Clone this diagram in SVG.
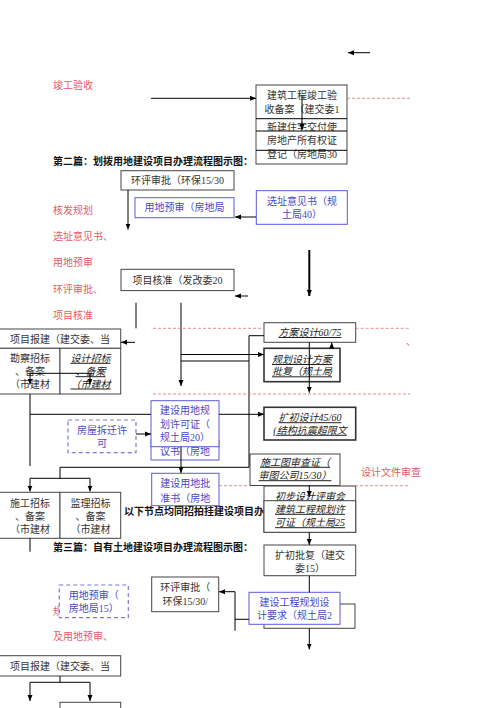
<svg xmlns="http://www.w3.org/2000/svg" width="500" height="708" viewBox="0 0 500 708">
<style>
.bx{fill:#fff;stroke:#444;stroke-width:1}
.bx2{fill:#fff;stroke:#333;stroke-width:1.6}
.bb{fill:#fff;stroke:#5a5ad8;stroke-width:1}
.bd{fill:#fff;stroke:#7a7ada;stroke-width:1.2;stroke-dasharray:4,3}
.t{font-family:"Liberation Serif","Noto Sans CJK SC",serif;font-size:10px;fill:#333}
.c{text-anchor:middle}
.tb{fill:#4848c8}
.tr{fill:#e45a64}
.ti{font-style:italic;text-decoration:underline;fill:#222}
.h{font-weight:bold;fill:#111}
.ln{stroke:#000;stroke-width:1;fill:none}
.lk{stroke:#000;stroke-width:2;fill:none}
.rd{stroke:#e07070;stroke-width:0.8;stroke-dasharray:3,2;fill:none}
</style>
<defs>
<marker id="ah" markerWidth="6" markerHeight="6" refX="6" refY="3" orient="auto-start-reverse" markerUnits="userSpaceOnUse"><path d="M0,0.5 L6,3 L0,5.5 z" fill="#000"/></marker>
<clipPath id="clipA"><rect x="256" y="119" width="91" height="12"/></clipPath>
</defs>

<g id="labels">
<text class="t tr" x="53" y="89">竣工验收</text>
<text class="t h" x="53" y="164.5">第二篇：划拨用地建设项目办理流程图示图：</text>
<text class="t tr" x="53" y="213.5">核发规划</text>
<text class="t tr" x="53" y="240">选址意见书、</text>
<text class="t tr" x="53" y="266">用地预审</text>
<text class="t tr" x="53" y="292.5">环评审批、</text>
<text class="t tr" x="53" y="318.5">项目核准</text>
<text class="t tr" x="406" y="345">、</text>
<text class="t tr" x="361" y="476">设计文件审查</text>
<text class="t h" x="124" y="515.2">以下节点均同招拍挂建设项目办</text>
<text class="t h" x="53" y="550.8">第三篇：自有土地建设项目办理流程图示图：</text>
<text class="t tr" x="53" y="615.2">规</text>
<text class="t tr" x="53" y="640.2">及用地预审、</text>
</g>

<g id="n-jungong">
<rect class="bx" x="256" y="85" width="91" height="79"/>
<text class="t c" x="302" y="98.8">建筑工程竣工验</text>
<text class="t c" x="302" y="112.5">收备案（建交委1</text>
<text class="t c" x="302" y="130.5" clip-path="url(#clipA)">新建住宅交付使</text>
<text class="t c" x="302" y="143.8">房地产所有权证</text>
<text class="t c" x="302" y="158">登记（房地局30</text>
<path class="ln" d="M256,118.7H347M256,131H347M256,150.3H347"/>
</g>

<g id="n-huanping1">
<rect class="bx" x="121" y="170.7" width="113" height="19.3"/>
<text class="t c" x="177.5" y="184.2">环评审批（环保15/30</text>
</g>
<g id="n-yudi1">
<rect class="bb" x="135" y="197.7" width="99" height="20"/>
<text class="t c tb" x="184.5" y="211.2">用地预审（房地局</text>
</g>
<g id="n-xuanzhi">
<rect class="bb" x="256.3" y="190.7" width="91" height="33.6"/>
<text class="t c tb" x="302" y="204.5">选址意见书（规</text>
<text class="t c tb" x="302" y="217.8">土局40）</text>
</g>
<g id="n-hezhun">
<rect class="bx" x="121" y="269.3" width="113" height="21.3"/>
<text class="t c" x="177.5" y="283.5">项目核准（发改委20</text>
</g>
<g id="n-fangan">
<rect class="bx" x="264" y="322.7" width="91.7" height="19.6"/>
<text class="t c ti" x="310" y="336">方案设计60/75</text>
</g>
<g id="n-guihuafangan">
<rect class="bx2" x="264" y="348.3" width="76" height="33.4"/>
<text class="t c ti" x="302" y="363">规划设计方案</text>
<text class="t c ti" x="302" y="375.3">批复（规土局</text>
</g>
<g id="n-baojian1">
<rect class="bx" x="-2" y="329" width="122.7" height="19.3"/>
<text class="t c" x="60" y="342.5">项目报建（建交委、当</text>
</g>
<g id="n-kancha">
<rect class="bx" x="-2" y="348.3" width="62" height="45.7"/>
<text class="t c" x="30" y="361.8">勘察招标</text>
<text class="t c" x="30" y="375.2">、备案</text>
<text class="t c" x="30" y="387.5">（市建材</text>
</g>
<g id="n-shejizb">
<rect class="bx" x="60" y="348.3" width="60.7" height="45.7"/>
<text class="t c ti" x="90.5" y="361.8">设计招标</text>
<text class="t c ti" x="90.5" y="375.2">、备案</text>
<text class="t c ti" x="90.5" y="387.5">（市建材</text>
</g>
<g id="n-chaiqian">
<rect class="bd" x="68" y="420" width="68" height="32.7"/>
<text class="t c tb" x="102" y="433.5">房屋拆迁许</text>
<text class="t c tb" x="102" y="447">可</text>
</g>
<g id="n-guihuaxuke">
<rect class="bb" x="151" y="440" width="68" height="20"/>
<text class="t c tb" x="185" y="454.5">议书（房地</text>
<rect class="bb" x="151" y="400.7" width="68" height="46"/>
<text class="t c tb" x="185" y="414.2">建设用地规</text>
<text class="t c tb" x="185" y="427.8">划许可证（</text>
<text class="t c tb" x="185" y="440.8">规土局20）</text>
</g>
<g id="n-kuochu">
<rect class="bx2" x="264" y="407.3" width="91.7" height="32.7"/>
<text class="t c ti" x="310" y="421.2">扩初设计45/60</text>
<text class="t c ti" x="310" y="433.8">(结构抗震超限文</text>
</g>
<g id="n-shigongtu">
<rect class="bx" x="250" y="454" width="90" height="31.5"/>
<text class="t c ti" x="295" y="465.8">施工图审查证（</text>
<text class="t c ti" x="295" y="479.2">审图公司15/30）</text>
</g>
<g id="n-pizhun">
<rect class="bb" x="151.7" y="473.3" width="67.3" height="32.4"/>
<text class="t c tb" x="185.3" y="486.8">建设用地批</text>
<text class="t c tb" x="185.3" y="501.8">准书（房地</text>
</g>
<g id="n-shigongzb">
<rect class="bx" x="-2" y="492.3" width="62" height="46"/>
<text class="t c" x="30" y="506.8">施工招标</text>
<text class="t c" x="30" y="520.2">、备案</text>
<text class="t c" x="30" y="532.5">（市建材</text>
</g>
<g id="n-jianlizb">
<rect class="bx" x="60" y="492.3" width="60.7" height="46"/>
<text class="t c" x="90.5" y="506.8">监理招标</text>
<text class="t c" x="90.5" y="520.2">、备案</text>
<text class="t c" x="90.5" y="532.5">（市建材</text>
</g>
<g id="n-guihuaxukezheng">
<rect class="bx" x="264" y="486" width="91.7" height="46.3"/>
<text class="t c ti" x="310" y="499.5">初步设计评审会</text>
<rect class="bx" x="264" y="500.7" width="91.7" height="31.6"/>
<text class="t c ti" x="310" y="512.8">建筑工程规划许</text>
<text class="t c ti" x="310" y="526.2">可证（规土局25</text>
</g>
<g id="n-kuochupifu">
<rect class="bx" x="264" y="545" width="91.7" height="30.7"/>
<text class="t c" x="310" y="558.5">扩初批复（建交</text>
<text class="t c" x="310" y="571.8">委15）</text>
</g>
<g id="n-yudi2">
<rect class="bd" x="59.3" y="585" width="69" height="32.7"/>
<text class="t c tb" x="93.8" y="598.5">用地预审（</text>
<text class="t c tb" x="93.8" y="611.8">房地局15）</text>
</g>
<g id="n-huanping2">
<rect class="bx" x="151.7" y="577" width="67" height="34.7"/>
<text class="t c" x="185.2" y="590.8">环评审批（</text>
<text class="t c" x="185.2" y="605.2">环保15/30/</text>
</g>
<g id="n-shejiyaoqiu">
<rect class="bx" x="264" y="604" width="91" height="24.3"/>
<rect class="bb" x="249" y="592.3" width="91" height="32"/>
<text class="t c tb" x="294.5" y="605.8">建设工程规划设</text>
<text class="t c tb" x="294.5" y="618.8">计要求（规土局2</text>
</g>
<g id="n-baojian2">
<rect class="bx" x="-2" y="655.7" width="122.7" height="20.3"/>
<text class="t c" x="60" y="669.5">项目报建（建交委、当</text>
</g>
<g id="n-shejizb2">
<rect class="bx" x="60" y="702.3" width="60.7" height="20"/>
</g>

<g id="connectors">
<line class="ln" x1="370" y1="52.7" x2="348" y2="52.7" marker-end="url(#ah)"/>
<line class="ln" x1="151" y1="98.3" x2="256" y2="98.3" marker-end="url(#ah)"/>
<line class="ln" x1="302" y1="95" x2="302" y2="130" marker-end="url(#ah)"/>
<line class="rd" x1="347" y1="98.3" x2="410" y2="98.3"/>
<line class="ln" x1="128" y1="190" x2="128" y2="229.5" marker-end="url(#ah)"/>
<line class="ln" x1="256" y1="217" x2="235" y2="217" marker-end="url(#ah)"/>
<line class="lk" x1="309.3" y1="250" x2="309.3" y2="296" marker-end="url(#ah)"/>
<line class="ln" x1="248" y1="296" x2="235" y2="296" marker-end="url(#ah)"/>
<line class="ln" x1="136" y1="302.7" x2="136" y2="328.3"/>
<line class="ln" x1="181" y1="302.7" x2="181" y2="386" marker-end="url(#ah)"/>
<line class="rd" x1="153" y1="328.3" x2="264" y2="328.3"/>
<line class="rd" x1="355.7" y1="328.3" x2="410" y2="328.3"/>
<line class="ln" x1="135" y1="342.3" x2="121" y2="342.3" marker-end="url(#ah)"/>
<path class="ln" d="M264,335.7H249V467.3"/>
<line class="ln" x1="181" y1="354.5" x2="264" y2="354.5" marker-end="url(#ah)"/>
<line class="ln" x1="181" y1="361" x2="249" y2="361"/>
<line class="ln" x1="331.7" y1="348.3" x2="331.7" y2="342.5" marker-end="url(#ah)"/>
<line class="ln" x1="309.3" y1="342.3" x2="309.3" y2="392.7" marker-end="url(#ah)"/>
<line class="rd" x1="153" y1="394" x2="410" y2="394"/>
<path class="ln" d="M30,384.5V373.3H90V384.5" marker-start="url(#ah)" marker-end="url(#ah)"/>
<line class="ln" x1="30" y1="394" x2="30" y2="466"/>
<line class="ln" x1="30" y1="414.3" x2="151" y2="414.3"/>
<line class="ln" x1="219" y1="414.3" x2="264" y2="414.3" marker-end="url(#ah)"/>
<line class="ln" x1="136" y1="434" x2="151" y2="434" marker-end="url(#ah)"/>
<line class="ln" x1="181" y1="446.7" x2="181" y2="473" marker-end="url(#ah)"/>
<line class="ln" x1="60" y1="467.3" x2="249" y2="467.3"/>
<path class="ln" d="M60,467.3V478.3"/>
<path class="ln" d="M30,491.5V478.3H90V491.5" marker-start="url(#ah)" marker-end="url(#ah)"/>
<line class="rd" x1="219" y1="485.7" x2="250" y2="485.7"/>
<line class="rd" x1="340" y1="485.7" x2="410" y2="485.7"/>
<line class="ln" x1="309.3" y1="485.5" x2="309.3" y2="497" marker-end="url(#ah)"/>
<line class="ln" x1="309.3" y1="532.3" x2="309.3" y2="545" marker-end="url(#ah)"/>
<line class="ln" x1="30" y1="538.3" x2="30" y2="551.7"/>
<line class="ln" x1="309.3" y1="575.7" x2="309.3" y2="592.3"/>
<line class="ln" x1="235" y1="591.7" x2="219" y2="591.7" marker-end="url(#ah)"/>
<line class="ln" x1="235" y1="591.7" x2="235" y2="630.7"/>
<line class="ln" x1="235" y1="619.3" x2="249" y2="619.3"/>
<line class="ln" x1="309.3" y1="628.3" x2="309.3" y2="649.5" marker-end="url(#ah)"/>
<path class="ln" d="M60,676V682.3"/>
<path class="ln" d="M30,701V682.3H90V701" marker-start="url(#ah)" marker-end="url(#ah)"/>
</g>
</svg>
